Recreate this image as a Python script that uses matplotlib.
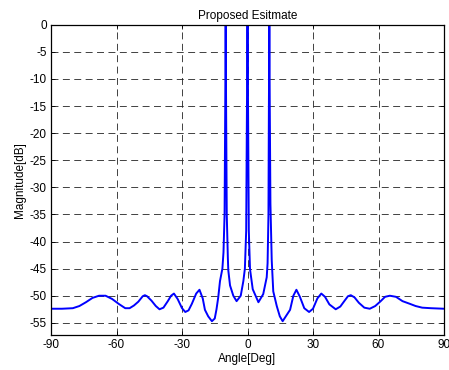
import matplotlib
matplotlib.use("Agg")
import matplotlib.pyplot as plt

plt.rcParams['font.family'] = ['Liberation Sans', 'DejaVu Sans']
plt.rcParams['lines.scale_dashes'] = False

angle = [-90, -85, -80, -77, -74, -71, -68, -65, -62, -59, -56, -54, -52, -50,
         -48, -47, -46, -44, -42, -40.3, -38.5, -36.5, -35, -33.7, -32, -30,
         -28.5, -27, -25.5, -23.5, -22, -20.5, -19.5, -18, -16.3, -15, -14.2,
         -13.4, -12.6, -11.5, -11, -10.5, -10.2, -10, -9.8, -9.5, -9.0, -8.8,
         -8.0, -6.5, -5.0, -3.1, -1.9, -1.2, -0.6, -0.25, 0, 0.25, 0.6, 1.15,
         2.4, 5.0, 7.2, 8.8, 9.2, 9.6, 9.8, 10, 10.2, 10.5, 11.1, 11.8, 13.4,
         14.8, 16.1, 18.2, 19.5, 21, 22.4, 24, 26, 28.2, 30, 32, 33.8, 35.5,
         37.5, 40.4, 42.5, 44.5, 46, 47.3, 49, 51, 53.5, 56, 58.5, 61, 63,
         65.2, 68, 71, 74.4, 77, 80, 84, 90]
magnitude = [-52.4, -52.4, -52.3, -51.9, -51.2, -50.4, -50.0, -50.0, -50.6,
             -51.5, -52.3, -52.3, -51.8, -51.1, -50.1, -49.9, -50.1, -50.9,
             -51.9, -52.5, -52.2, -51.0, -50.0, -49.6, -50.6, -52.3, -53.0,
             -52.7, -51.5, -49.6, -48.9, -50.5, -52.6, -53.8, -54.7, -54.2,
             -52.5, -50.3, -47.3, -45.0, -42.0, -35.0, -15.0, 0.0, -15.0,
             -35.0, -43.0, -45.3, -48.1, -50.0, -51.0, -50.0, -47.3, -45.0,
             -38.0, -15.0, 0.0, -15.0, -38.0, -45.1, -48.8, -51.2, -49.7,
             -46.6, -44.0, -35.0, -15.0, 0.0, -15.0, -33.0, -43.5, -49.2,
             -51.9, -53.8, -54.7, -53.4, -52.6, -50.0, -48.9, -50.2, -52.3,
             -53.0, -52.4, -50.5, -49.6, -50.2, -51.6, -52.5, -52.0, -50.9,
             -50.1, -49.9, -50.3, -51.3, -52.2, -52.4, -51.9, -51.0, -50.2,
             -50.0, -50.2, -51.0, -51.5, -51.9, -52.2, -52.3, -52.4]

xticks = [-90, -60, -30, 0, 30, 60, 90]
yticks = [0, -5, -10, -15, -20, -25, -30, -35, -40, -45, -50, -55]

fig = plt.figure(figsize=(4.49, 3.70), dpi=100)
ax = fig.add_axes([51/449, 1-335.3/370, 393/449, (335.3-24.7)/370])

ax.plot(angle, magnitude, color='#0000ff', linewidth=1.4, solid_joinstyle='round')

ax.set_xlim(-90, 90)
ax.set_ylim(-57.3, 0)
ax.set_xticks(xticks)
ax.set_yticks(yticks)
ax.set_xticklabels([str(t) for t in xticks])
ax.set_yticklabels([str(t) for t in yticks])
ax.tick_params(direction='in', length=3, width=0.6, labelsize=8.5,
               top=True, right=True, pad=3)
ax.grid(True, color='#222222', linestyle=(0, (5, 3.2)), linewidth=0.6)
for s in ax.spines.values():
    s.set_linewidth(0.9)

ax.set_title('Proposed Esitmate', fontsize=8.5, pad=4)
ax.set_xlabel('Angle[Deg]', fontsize=8.5, labelpad=1)
ax.set_ylabel('Magnitude[dB]', fontsize=8.5, labelpad=3)

fig.savefig('out.png', dpi=100)
